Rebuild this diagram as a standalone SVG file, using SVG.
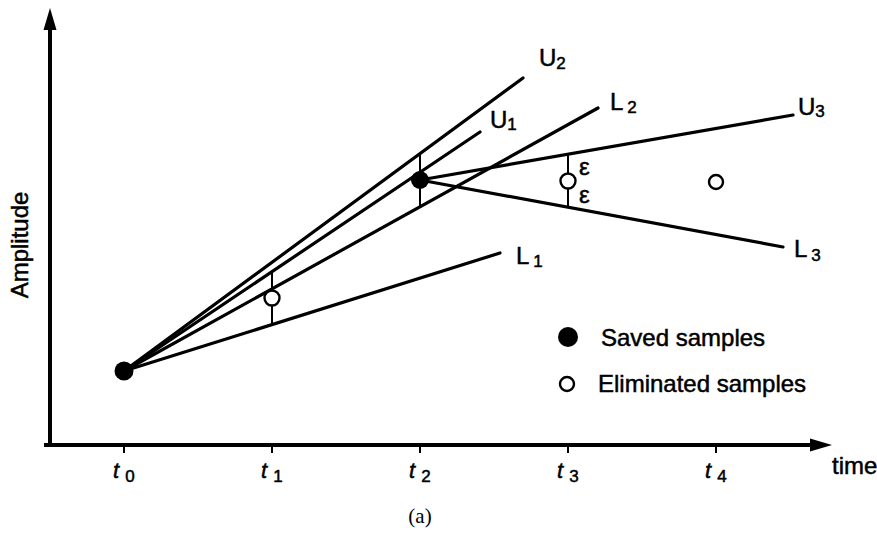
<svg xmlns="http://www.w3.org/2000/svg" width="877" height="537" viewBox="0 0 877 537">
<defs>
<style>
.ln{stroke:#000;stroke-width:3.2;fill:none;stroke-linecap:round}
.bar{stroke:#000;stroke-width:2;fill:none}
.ax{stroke:#000;stroke-width:4;fill:none}
.lab{font-family:"Liberation Sans",Arial,sans-serif;font-size:24px;fill:#000;stroke:#000;stroke-width:0.5}
.sub{font-size:17px}
.tl{font-family:"Liberation Sans",Arial,sans-serif;font-size:22px;fill:#000;font-style:italic;stroke:#000;stroke-width:0.5}
.full{fill:#000}
.open{fill:#fff;stroke:#000;stroke-width:2.4}
</style>
</defs>
<rect width="877" height="537" fill="#fff"/>
<g id="axes">
<line class="ax" x1="50" y1="445" x2="50" y2="26"/>
<polygon points="50,8 43.5,30 56.5,30" fill="#000"/>
<line class="ax" x1="44" y1="445" x2="812" y2="445"/>
<polygon points="832,445 810,438.5 810,451.5" fill="#000"/>
<g stroke="#000" stroke-width="2">
<line x1="124" y1="445" x2="124" y2="453"/>
<line x1="272" y1="445" x2="272" y2="453"/>
<line x1="420" y1="445" x2="420" y2="453"/>
<line x1="568" y1="445" x2="568" y2="453"/>
<line x1="716" y1="445" x2="716" y2="453"/>
</g>
<text class="lab" x="28" y="245" text-anchor="middle" transform="rotate(-90 28 245)" font-size="24">Amplitude</text>
<text class="lab" x="832" y="474" font-size="21">time</text>
<text class="tl" x="113" y="478">t<tspan font-style="normal" class="sub" dx="6" dy="4">0</tspan></text>
<text class="tl" x="261" y="478">t<tspan font-style="normal" class="sub" dx="6" dy="4">1</tspan></text>
<text class="tl" x="409" y="478">t<tspan font-style="normal" class="sub" dx="6" dy="4">2</tspan></text>
<text class="tl" x="557" y="478">t<tspan font-style="normal" class="sub" dx="6" dy="4">3</tspan></text>
<text class="tl" x="705" y="478">t<tspan font-style="normal" class="sub" dx="6" dy="4">4</tspan></text>
<text x="420" y="523" text-anchor="middle" font-family="Liberation Serif,serif" font-size="21">(a)</text>
</g>
<g id="connectors">
<line class="ln" x1="124" y1="371" x2="523" y2="78"/>
<line class="ln" x1="124" y1="371" x2="480" y2="132"/>
<line class="ln" x1="124" y1="371" x2="598" y2="108"/>
<line class="ln" x1="124" y1="371" x2="500" y2="253"/>
<line class="ln" x1="420" y1="180" x2="793" y2="115"/>
<line class="ln" x1="420" y1="180" x2="783" y2="247"/>
<line class="bar" x1="272" y1="272" x2="272" y2="326"/>
<line class="bar" x1="420" y1="154" x2="420" y2="208"/>
<line class="bar" x1="568" y1="154" x2="568" y2="208"/>
</g>
<g id="labels">
<text class="lab" x="539" y="66" font-size="23">U<tspan class="sub" dy="3">2</tspan></text>
<text class="lab" x="490" y="128" font-size="22">U<tspan class="sub" dy="2">1</tspan></text>
<text class="lab" x="610" y="110" font-size="22">L<tspan class="sub" dx="4" dy="3">2</tspan></text>
<text class="lab" x="798" y="115" font-size="20">U<tspan class="sub" dy="2">3</tspan></text>
<text class="lab" x="516" y="264" font-size="22">L<tspan class="sub" dx="4" dy="3">1</tspan></text>
<text class="lab" x="794" y="257" font-size="22">L<tspan class="sub" dx="4" dy="4">3</tspan></text>
<text class="lab" x="579" y="175" font-size="20">ε</text>
<text class="lab" x="579" y="203" font-size="20">ε</text>
</g>
<g id="samples">
<circle id="s0" class="full" cx="124" cy="371" r="9.5"/>
<circle id="s1" class="open" cx="272" cy="298" r="7.5"/>
<circle id="s2" class="full" cx="420" cy="180" r="9"/>
<circle id="s3" class="open" cx="568" cy="181" r="7.5"/>
<circle id="s4" class="open" cx="716" cy="182" r="7"/>
</g>
<g id="legend">
<circle class="full" cx="568" cy="337" r="10"/>
<text class="lab" x="601" y="346">Saved samples</text>
<circle class="open" cx="567" cy="384" r="7"/>
<text class="lab" x="598" y="392">Eliminated samples</text>
</g>
</svg>
